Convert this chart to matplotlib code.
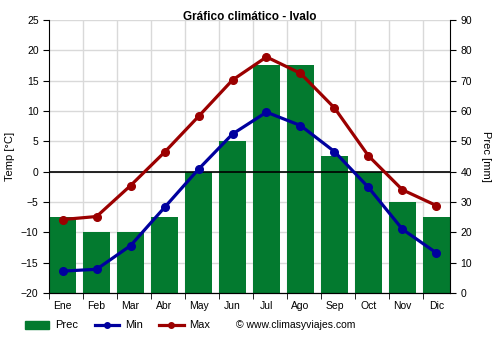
import numpy as np
import matplotlib
matplotlib.use('Agg')
import matplotlib.pyplot as plt
from matplotlib.lines import Line2D
from matplotlib.patches import Patch

plt.rcParams['font.family'] = ['Liberation Sans', 'DejaVu Sans']

# monthly climate data for Ivalo
months = ['Ene', 'Feb', 'Mar', 'Abr', 'May', 'Jun', 'Jul', 'Ago', 'Sep', 'Oct', 'Nov', 'Dic']
prec = [25, 20, 20, 25, 40, 50, 75, 75, 45, 40, 30, 25]
t_min = [-16.4, -16.1, -12.2, -5.9, 0.4, 6.2, 9.8, 7.6, 3.3, -2.6, -9.5, -13.4]
t_max = [-7.9, -7.4, -2.3, 3.2, 9.1, 15.1, 18.9, 16.2, 10.5, 2.6, -3.0, -5.6]

GREEN = '#037a2f'
BLUE = '#00009e'
RED = '#9b0000'

fig = plt.figure(figsize=(5, 3.5), dpi=100)
ax = fig.add_axes([0.098, 0.163, 0.802, 0.78])
ax2 = ax.twinx()

x = np.arange(len(months))

# precipitation bars on the right axis, drawn behind the temperature lines
ax2.bar(x, prec, width=0.8, color=GREEN, zorder=2)
ax2.set_ylim(0, 90)
ax2.set_yticks(range(0, 91, 10))
ax.set_zorder(ax2.get_zorder() + 1)
ax.patch.set_visible(False)

ax.plot(x, t_min, color=BLUE, lw=2.3, marker='o', ms=5.5, zorder=4)
ax.plot(x, t_max, color=RED, lw=2.3, marker='o', ms=5.5, zorder=4)
ax.axhline(0, color='black', lw=1.2, zorder=3)

ax.set_ylim(-20, 25)
ax.set_yticks(range(-20, 26, 5))
ax.set_xlim(-0.4, 11.4)
ax.set_xticks(x)
ax.set_xticklabels(months)
ax.set_xticks(np.arange(12) - 0.4, minor=True)
ax.tick_params(axis='x', which='major', length=0, labelsize=7.5, pad=6)
ax.tick_params(axis='x', which='minor', length=4)
ax.tick_params(axis='y', labelsize=7.5, length=4)
ax2.tick_params(axis='y', labelsize=7.5, length=4)

# grid lives on the twin axes so it sits under the bars
for xv in np.arange(1, 12) - 0.4:
    ax2.axvline(xv, color='#d9d9d9', lw=1, zorder=1)
for yv in range(-20, 26, 5):
    ax2.axhline((yv + 20) * 2, color='#d9d9d9', lw=1, zorder=1)

for a in (ax, ax2):
    a.spines['top'].set_visible(False)
ax2.spines['left'].set_visible(False)
ax.spines['right'].set_visible(False)

ax.set_ylabel('Temp [°C]', fontsize=8, labelpad=4)
ax2.set_ylabel('Prec [mm]', fontsize=8, rotation=-90, labelpad=14)
fig.text(0.5, 0.95, 'Gráfico climático - Ivalo', fontsize=8.5,
         fontweight='bold', ha='center', va='center')

handles = [Patch(color=GREEN),
           Line2D([], [], color=BLUE, lw=2.3, marker='o', ms=4),
           Line2D([], [], color=RED, lw=2.3, marker='o', ms=4)]
fig.legend(handles, ['Prec', 'Min', 'Max'], loc='center left',
           bbox_to_anchor=(0.03, 0.07), ncol=3, frameon=False, fontsize=8,
           handlelength=2.2, columnspacing=1.5, handletextpad=0.5)
fig.text(0.472, 0.07, '© www.climasyviajes.com', fontsize=7.5, va='center')

fig.savefig('out.png', dpi=100)
